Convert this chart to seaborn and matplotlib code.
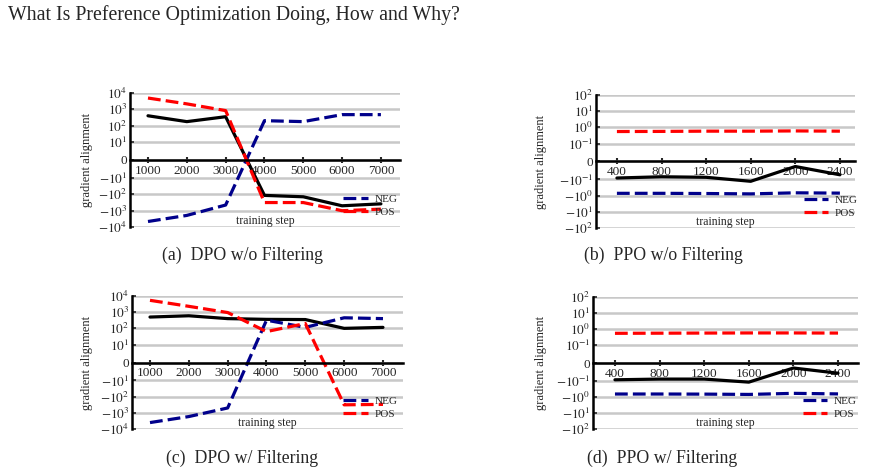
import matplotlib
matplotlib.use("Agg")
import matplotlib.pyplot as plt
import seaborn as sns
import pandas as pd
from matplotlib.ticker import NullLocator
from matplotlib.lines import Line2D

# training steps
dpo_steps = [1000, 2000, 3000, 4000, 5000, 6000, 7000]
ppo_steps = [400, 800, 1200, 1600, 2000, 2400]

# (a) DPO w/o filtering
dpo_nf_total = [400, 175, 350, -115, -140, -500, -380]
dpo_nf_neg = [-4600, -1950, -450, 200, 175, 470, 470]
dpo_nf_pos = [4900, 2150, 830, -316, -316, -1000, -800]

# (b) PPO w/o filtering
ppo_nf_total = [-0.092, -0.085, -0.088, -0.13, -0.028, -0.074]
ppo_nf_neg = [-0.72, -0.72, -0.74, -0.78, -0.67, -0.70]
ppo_nf_pos = [0.55, 0.56, 0.58, 0.58, 0.60, 0.58]

# (c) DPO w/ filtering
dpo_f_total = [500, 600, 400, 360, 350, 100, 115]
dpo_f_neg = [-4000, -1700, -500, 320, 115, 450, 400]
dpo_f_pos = [5400, 2300, 950, 63, 200, -320, -300]

# (d) PPO w/ filtering
ppo_f_total = [-0.094, -0.09, -0.09, -0.12, -0.028, -0.057]
ppo_f_neg = [-0.66, -0.66, -0.67, -0.70, -0.60, -0.65]
ppo_f_pos = [0.55, 0.56, 0.57, 0.58, 0.58, 0.57]

dpo_exps = [1, 2, 3, 4]
ppo_exps = [-1, 0, 1, 2]

captions = ["(a)  DPO w/o Filtering", "(b)  PPO w/o Filtering",
            "(c)  DPO w/ Filtering", "(d)  PPO w/ Filtering"]

sns.set_style("white")
plt.rcParams['font.family'] = ['Liberation Serif', 'DejaVu Serif']
plt.rcParams['mathtext.fontset'] = 'stix'

fig = plt.figure(figsize=(8.7, 4.73), dpi=100)

colors = {'TOTAL': 'black', 'NEG': '#00008b', 'POS': '#ff0000'}
dashes = {'TOTAL': '', 'NEG': (4, 1.6), 'POS': (4, 1.6)}


def draw(rect, steps, total, neg, pos, exps, linthresh, xlim, xticks, ylab_x, leg_x):
    ax = fig.add_axes(rect)
    n = len(steps)
    df = pd.DataFrame({
        'step': list(steps) * 3,
        'value': list(total) + list(neg) + list(pos),
        'series': ['TOTAL'] * n + ['NEG'] * n + ['POS'] * n,
    })
    sns.lineplot(data=df, x='step', y='value', hue='series', style='series',
                 palette=colors, dashes=dashes, linewidth=2.3, ax=ax, legend=False)
    ax.set_yscale('symlog', linthresh=linthresh, linscale=1)
    top = 10.0 ** exps[-1]
    ax.set_ylim(-top, top)
    ax.set_xlim(*xlim)
    ticks = [-(10.0 ** e) for e in exps[::-1]] + [0] + [10.0 ** e for e in exps]
    labels = ['$-10^{%d}$' % e for e in exps[::-1]] + ['0'] + ['$10^{%d}$' % e for e in exps]
    ax.set_yticks(ticks)
    ax.set_yticklabels(labels)
    ax.yaxis.set_minor_locator(NullLocator())
    ax.set_xticks(xticks)
    ax.set_xticklabels([str(t) for t in xticks])

    ax.yaxis.grid(True, color='#c8c8c8', linewidth=1.8)
    ax.xaxis.grid(False)
    ax.set_axisbelow(True)
    for s in ['top', 'right']:
        ax.spines[s].set_visible(False)
    ax.spines['bottom'].set_position(('data', 0))
    ax.spines['bottom'].set_linewidth(1.8)
    ax.spines['left'].set_linewidth(1.8)
    ax.spines['bottom'].set_color('black')
    ax.spines['left'].set_color('black')
    ax.tick_params(axis='x', direction='inout', length=5, width=1.5, pad=1,
                   labelsize=9.5, bottom=True)
    ax.tick_params(axis='y', direction='in', length=3, width=1.2, pad=2,
                   labelsize=9.5, left=True)

    ax.set_xlabel('')
    ax.set_ylabel('gradient alignment', fontsize=9)
    ax.yaxis.set_label_coords(ylab_x, 0.5)
    ax.text(0.5, 0.045, 'training step', transform=ax.transAxes,
            ha='center', va='center', fontsize=8.5)

    handles = [Line2D([], [], color=colors['NEG'], lw=2.3, dashes=dashes['NEG']),
               Line2D([], [], color=colors['POS'], lw=2.3, dashes=dashes['POS'])]
    ax.legend(handles, ['NEG', 'POS'], loc='center left', bbox_to_anchor=(leg_x, 0.16),
              frameon=False, fontsize=8, borderpad=0, handlelength=2.2,
              handletextpad=0.6, labelspacing=0.3)
    return ax


draw([0.1494, 0.5201, 0.3103, 0.2833], dpo_steps, dpo_nf_total, dpo_nf_neg, dpo_nf_pos,
     dpo_exps, 10, (536, 7490), dpo_steps, -0.137, 0.77)
draw([0.685, 0.518, 0.2977, 0.2812], ppo_steps, ppo_nf_total, ppo_nf_neg, ppo_nf_pos,
     ppo_exps, 0.1, (212, 2535), ppo_steps, -0.19, 0.78)
draw([0.1517, 0.093, 0.3115, 0.2812], dpo_steps, dpo_f_total, dpo_f_neg, dpo_f_pos,
     dpo_exps, 10, (536, 7515), dpo_steps, -0.144, 0.76)
draw([0.6816, 0.093, 0.3046, 0.279], ppo_steps, ppo_f_total, ppo_f_neg, ppo_f_pos,
     ppo_exps, 0.1, (203, 2579), ppo_steps, -0.174, 0.77)

fig.text(0.009, 0.968, 'What Is Preference Optimization Doing, How and Why?',
         ha='left', va='center', fontsize=14.3)
fig.text(243 / 870, 1 - 255 / 473, captions[0], ha='center', va='center', fontsize=12.8)
fig.text(663 / 870, 1 - 255 / 473, captions[1], ha='center', va='center', fontsize=12.8)
fig.text(242 / 870, 1 - 458 / 473, captions[2], ha='center', va='center', fontsize=12.8)
fig.text(662 / 870, 1 - 458 / 473, captions[3], ha='center', va='center', fontsize=12.8)

fig.savefig('out.png', dpi=100)
